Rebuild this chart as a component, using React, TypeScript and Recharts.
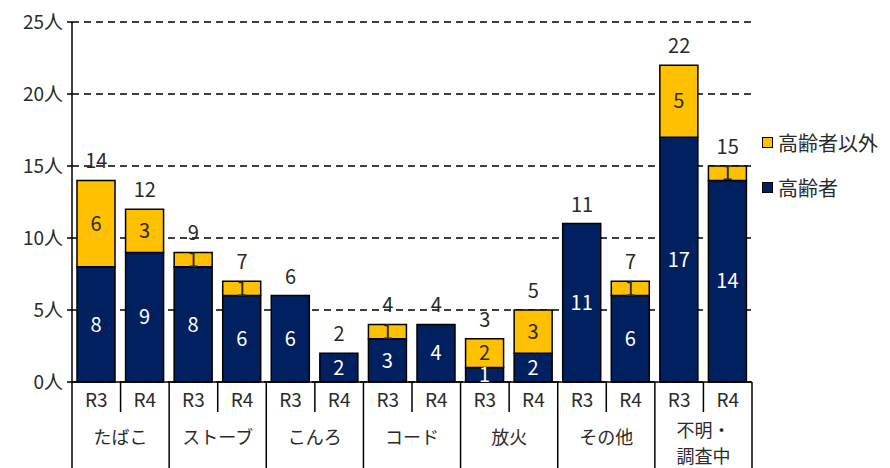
import React from 'react';
import {
    ComposedChart,
    Bar,
    Line,
    XAxis,
    YAxis,
    CartesianGrid,
    LabelList,
} from 'recharts';

// 火災による死者数 (原因別・年度別)
const categories = ['たばこ', 'ストーブ', 'こんろ', 'コード', '放火', 'その他', '不明・\n調査中'];
const years = ['R3', 'R4'];
const elderly = [8, 9, 8, 6, 6, 2, 3, 4, 1, 2, 11, 6, 17, 14];
const nonElderly = [6, 3, 1, 1, 0, 0, 1, 0, 2, 3, 0, 1, 5, 1];
const yTicks = [0, 5, 10, 15, 20, 25];
const legendItems = [
    { name: '高齢者以外', color: '#FFC000' },
    { name: '高齢者', color: '#002060' },
];

const NAVY = '#002060';
const GOLD = '#FFC000';
const FONT = '"Noto Sans CJK JP", "Noto Sans", sans-serif';
const TEXT = '#2a2a2a';

const W = 890;
const H = 468;
const LEFT = 72;
const RIGHT = 752;
const AXIS_Y = 382;
const BAND = (RIGHT - LEFT) / elderly.length;

const rows = elderly.map((v, i) => ({
    id: i,
    cat: categories[Math.floor(i / 2)],
    year: years[i % 2],
    elderly: v,
    other: nonElderly[i],
    total: v + nonElderly[i],
}));

function XTick(props: any) {
    const { x, payload } = props;
    const i = payload?.index ?? props.index ?? 0;
    const row = rows[i];
    const isLast = i % 2 === 1;
    const lines = row.cat.split('\n');
    return (
        <g>
            <text x={x} y={AXIS_Y + 25} textAnchor="middle" fontSize={19} fill={TEXT} fontFamily={FONT}>
                {row.year}
            </text>
            <line
                x1={x + BAND / 2}
                x2={x + BAND / 2}
                y1={AXIS_Y}
                y2={isLast ? H : AXIS_Y + 30}
                stroke="#000"
                strokeWidth={1.5}
            />
            {i === 0 && (
                <line x1={x - BAND / 2} x2={x - BAND / 2} y1={AXIS_Y} y2={H} stroke="#000" strokeWidth={1.5} />
            )}
            {isLast &&
                lines.map((t: string, k: number) => (
                    <text
                        key={k}
                        x={x - BAND / 2}
                        y={lines.length > 1 ? AXIS_Y + 55 + k * 26 : AXIS_Y + 62}
                        textAnchor="middle"
                        fontSize={18}
                        fill={TEXT}
                        fontFamily={FONT}
                    >
                        {t}
                    </text>
                ))}
        </g>
    );
}

const hideZero = (v: any) => (v ? v : '');

export default function App() {
    return (
        <div style={{ position: 'absolute', left: 0, top: 0, width: W, height: H, background: '#fff' }}>
            <ComposedChart
                width={W}
                height={H}
                data={rows}
                margin={{ top: 22, right: W - RIGHT, left: 0, bottom: 0 }}
            >
                <CartesianGrid vertical={false} stroke="#000" strokeDasharray="7 5" strokeWidth={1.5} />
                <XAxis
                    dataKey="id"
                    height={H - AXIS_Y}
                    axisLine={{ stroke: '#000', strokeWidth: 1.5 }}
                    tickLine={false}
                    tickSize={0}
                    tickMargin={0}
                    interval={0}
                    tick={<XTick />}
                />
                <YAxis
                    width={LEFT}
                    domain={[0, 25]}
                    ticks={yTicks}
                    tickFormatter={(v) => `${v}人`}
                    axisLine={{ stroke: '#000', strokeWidth: 1.5 }}
                    tickLine={{ stroke: '#000', strokeWidth: 1.5 }}
                    tickSize={5}
                    tickMargin={4}
                    tick={{ fontSize: 19, fill: TEXT, fontFamily: FONT }}
                />
                <Bar dataKey="elderly" name="高齢者" stackId="a" fill={NAVY} stroke="#000" strokeWidth={1.5} barSize={38} isAnimationActive={false}>
                    <LabelList
                        dataKey="elderly"
                        position="center"
                        formatter={hideZero}
                        fill="#fff"
                        fontSize={20}
                        fontFamily={FONT}
                    />
                </Bar>
                <Bar dataKey="other" name="高齢者以外" stackId="a" fill={GOLD} stroke="#000" strokeWidth={1.5} barSize={38} isAnimationActive={false}>
                    <LabelList
                        dataKey="other"
                        position="center"
                        formatter={hideZero}
                        fill={TEXT}
                        fontSize={20}
                        fontFamily={FONT}
                    />
                </Bar>
                <Line
                    dataKey="total"
                    stroke="none"
                    dot={false}
                    activeDot={false}
                    legendType="none"
                    isAnimationActive={false}
                >
                    <LabelList dataKey="total" position="top" offset={12} fill={TEXT} fontSize={20} fontFamily={FONT} />
                </Line>
            </ComposedChart>
            <div style={{ position: 'absolute', left: 762, top: 120, fontFamily: FONT, fontSize: 20, color: TEXT }}>
                {legendItems.map((e) => (
                    <div key={e.name} style={{ display: 'flex', alignItems: 'center', height: 45 }}>
                        <span
                            style={{
                                width: 9,
                                height: 9,
                                background: e.color,
                                border: '1.5px solid #000',
                                marginRight: 5,
                            }}
                        />
                        {e.name}
                    </div>
                ))}
            </div>
        </div>
    );
}
